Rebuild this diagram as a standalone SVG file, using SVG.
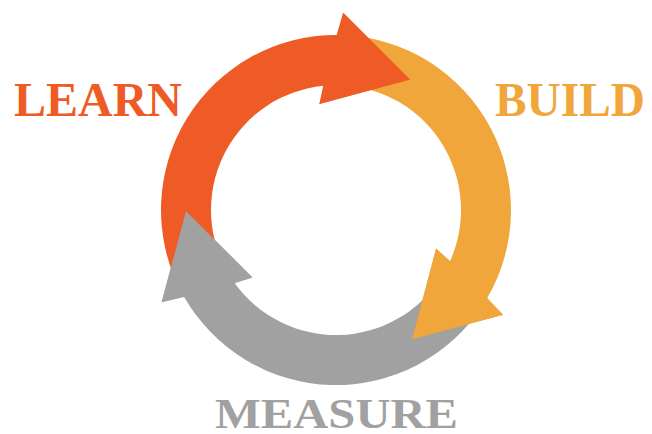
<svg xmlns="http://www.w3.org/2000/svg" xmlns:xlink="http://www.w3.org/1999/xlink" width="652" height="434" viewBox="0 0 652 434">
  <style>
    .learn { fill: #EF5B27; }
    .build { fill: #F1A63B; }
    .measure { fill: #A1A1A1; }
    .label { font-family: "Liberation Serif", "DejaVu Serif", serif; font-weight: bold; }
  </style>
  <defs>
    <!-- One curved arrow of the ring (centre 336,210; radii 125..175); the others are rotations of it -->
    <path id="ringArrow" d="M342.54,85.17 L345.16,35.24 A175,175 0 0 1 487.25,298.03 L503.14,314.85 L412.13,339.24 L436.11,248.62 L450.10,261.04 A125,125 0 0 0 342.54,85.17 Z"/>
    <!-- Arrowhead alone, redrawn on top so each head covers the start of the next arrow -->
    <polygon id="ringHead" points="503.14,314.85 412.13,339.24 436.11,248.62"/>
  </defs>

  <g id="connectors">
    <use xlink:href="#ringArrow" class="build"/>
    <use xlink:href="#ringArrow" class="measure" transform="rotate(120 336 210)"/>
    <use xlink:href="#ringArrow" class="learn" transform="rotate(-120 336 210)"/>
    <use xlink:href="#ringHead" class="build"/>
    <use xlink:href="#ringHead" class="measure" transform="rotate(120 336 210)"/>
    <use xlink:href="#ringHead" class="learn" transform="rotate(-120 336 210)"/>
  </g>

  <g id="node-learn">
    <text class="label learn" x="14" y="116" font-size="48" textLength="168" lengthAdjust="spacingAndGlyphs">LEARN</text>
  </g>
  <g id="node-build">
    <text class="label build" x="495" y="116" font-size="48" textLength="150" lengthAdjust="spacingAndGlyphs">BUILD</text>
  </g>
  <g id="node-measure">
    <text class="label measure" x="215" y="428" font-size="42" textLength="243" lengthAdjust="spacingAndGlyphs">MEASURE</text>
  </g>
</svg>
